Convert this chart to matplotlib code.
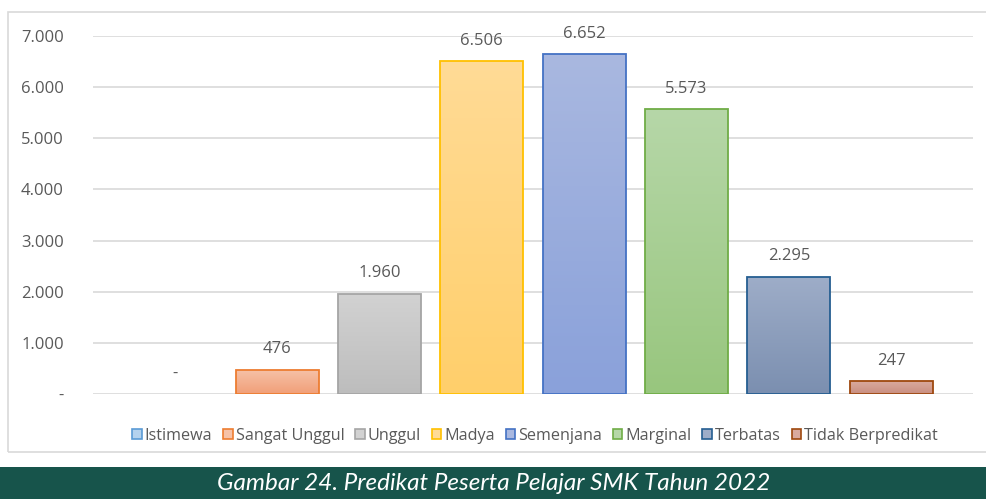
import matplotlib.pyplot as plt
import matplotlib.colors as mcolors
from matplotlib.patches import Patch, Rectangle
import numpy as np

plt.rcParams['font.family'] = ['Open Sans', 'DejaVu Sans']

categories = ["Istimewa", "Sangat Unggul", "Unggul", "Madya",
              "Semenjana", "Marginal", "Terbatas", "Tidak Berpredikat"]
values = [0, 476, 1960, 6506, 6652, 5573, 2295, 247]
# gradient top / bottom and outline colours per category
top_colors = ["#b4d2ee", "#f6c2a8", "#d2d2d2", "#ffdb96", "#a9b8e0", "#b6d7a8", "#9eadc8", "#d9aa9e"]
bottom_colors = ["#8fbbe3", "#f19f78", "#bdbdbd", "#ffcf6b", "#8aa1da", "#98c67e", "#7b8fb0", "#c98e80"]
edge_colors = ["#5b9bd5", "#ed7d31", "#a5a5a5", "#ffc000", "#4472c4", "#70ad47", "#255e91", "#9e480e"]
yticks = [0, 1000, 2000, 3000, 4000, 5000, 6000, 7000]


def fmt(v):
    return "-" if v == 0 else f"{v:,}".replace(",", ".")


fig = plt.figure(figsize=(9.87, 4.99), dpi=100)
ax = fig.add_axes([93 / 987, 1 - 394 / 499, 880 / 987, 358 / 499])

x = np.arange(len(categories))
edges = [e if v > 0 else "none" for e, v in zip(edge_colors, values)]
bars = ax.bar(x, values, width=0.81, color="none", edgecolor=edges,
              linewidth=1.3, zorder=3)

# gradient fills clipped to each bar
for b, c1, c2 in zip(bars, top_colors, bottom_colors):
    if b.get_height() <= 0:
        continue
    cmap = mcolors.LinearSegmentedColormap.from_list("g", [c2, c1])
    grad = np.linspace(0, 1, 100).reshape(-1, 1)
    im = ax.imshow(grad, cmap=cmap, aspect="auto", origin="lower",
                   extent=[b.get_x(), b.get_x() + b.get_width(), 0, b.get_height()],
                   zorder=2)
    im.set_clip_path(b)

for xi, v in zip(x, values):
    ax.text(xi, v + 240, fmt(v), ha="center", va="bottom", fontsize=12, color="#595959")

ax.set_xlim(-0.8, 7.8)
ax.set_ylim(0, 7000)
ax.set_yticks(yticks)
ax.set_yticklabels([fmt(v) for v in yticks], fontsize=12, color="#595959")
ax.set_xticks([])
ax.tick_params(axis="y", length=0, pad=21)
ax.grid(axis="y", color="#d9d9d9", linewidth=1.2, zorder=0)
for s in ax.spines.values():
    s.set_visible(False)

handles = [Patch(facecolor=c, edgecolor=e, linewidth=1.2)
           for c, e in zip(top_colors, edge_colors)]
fig.legend(handles, categories, loc="center", bbox_to_anchor=(535 / 987, 1 - 436 / 499),
           ncol=8, frameon=False, fontsize=11.6, labelcolor="#595959",
           handlelength=0.6, handleheight=0.6, handletextpad=0.2, columnspacing=0.65)

# outer chart border
fig.patches.append(Rectangle((8 / 987, 1 - 452 / 499), 1.0, 440 / 499, transform=fig.transFigure,
                             facecolor="none", edgecolor="#d9d9d9", linewidth=1.2))
# caption banner
fig.patches.append(Rectangle((0, 0), 1, 32 / 499, transform=fig.transFigure,
                             facecolor="#17544b", edgecolor="none"))
fig.text(494 / 987, 15 / 499, "Gambar 24. Predikat Peserta Pelajar SMK Tahun 2022",
         ha="center", va="center", color="white", fontsize=17.5, style="italic",
         family=["Lato", "DejaVu Sans"])

fig.savefig("out.png", dpi=100)
plt.close()
